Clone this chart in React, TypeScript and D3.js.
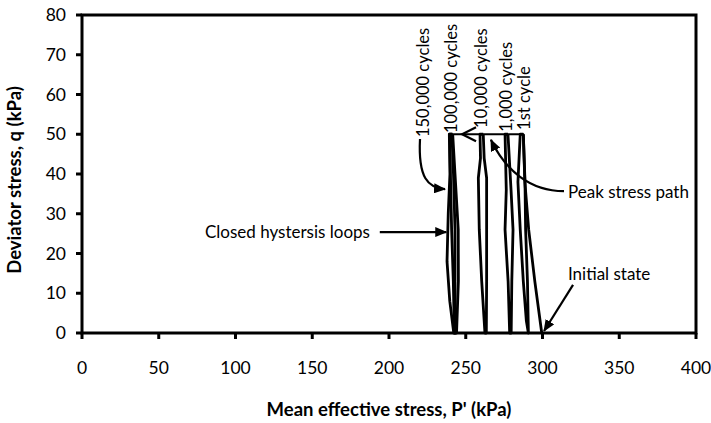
import React from "react";
import * as d3 from "d3";

type Pt = [number, number];

// Axis ticks
const xTicks = [0, 50, 100, 150, 200, 250, 300, 350, 400];
const yTicks = [0, 10, 20, 30, 40, 50, 60, 70, 80];

// Stress paths (p', q)
const initialLoading: Pt[] = [[299.5, 0], [295, 13], [291, 26], [288.5, 38], [287.5, 50]];
const loop1st: Pt[] = [[287.5, 50], [288.6, 38], [289, 26], [290.2, 13], [290.8, 0], [289.5, 3], [287.5, 13], [285.5, 26], [284, 38], [285.5, 50], [287.5, 50]];
const loop1000: Pt[] = [[277.5, 50], [279.5, 36], [280.8, 26], [280, 13], [279.6, 0], [278.6, 0], [277.6, 13], [275.6, 26], [276.4, 36], [275.6, 50], [277.5, 50]];
const loop10000: Pt[] = [[261.4, 50], [262, 44], [263.6, 39], [263.6, 26], [263.6, 13], [263.4, 0], [262.5, 0], [260.4, 13], [258.8, 26], [258.2, 39], [259.6, 44], [259.3, 50], [261.4, 50]];
const loop100000: Pt[] = [[241.5, 50], [243, 40], [245.1, 26], [245.2, 13], [244, 0], [242.6, 0], [241.9, 13], [240.8, 26], [240, 40], [239.6, 50], [241.5, 50]];
const loop150000: Pt[] = [[241, 50], [242, 40], [243, 26], [243, 13], [243.2, 0], [242.2, 0], [239.6, 8], [237.8, 18], [238.6, 30], [239.7, 40], [239.3, 50], [241, 50]];
const paths: Pt[][] = [initialLoading, loop1st, loop1000, loop10000, loop100000, loop150000];

// Cycle labels (rotated) and their anchor (p', q)
const cycleLabels = ["150,000 cycles", "100,000 cycles", "10,000 cycles", "1,000 cycles", "1st cycle"];
const cycleLabelP = [226.1, 244.3, 263.8, 280.1, 291.9];
const cycleLabelQ = [49.3, 50.3, 51.6, 50.6, 51.1];

// Annotation texts
const noteClosed = "Closed hystersis loops";
const notePeak = "Peak stress path";
const noteInitial = "Initial state";

const W = 711;
const H = 423;
const FONT = "Lato, 'Open Sans', sans-serif";

export default function App() {
  const x = d3.scaleLinear().domain([0, 400]).range([82, 696]);
  const y = d3.scaleLinear().domain([0, 80]).range([333, 15]);
  const line = d3.line<Pt>().x((d) => x(d[0])).y((d) => y(d[1]));

  const P = (p: number, q: number) => `${x(p)},${y(q)}`;

  return (
    <svg width={W} height={H} style={{ position: "absolute", left: 0, top: 0, background: "#fff" }} fontFamily={FONT}>
      <defs>
        <marker id="ah" viewBox="0 0 12 10" refX="11" refY="5" markerWidth="12" markerHeight="10" markerUnits="userSpaceOnUse" orient="auto">
          <path d="M0,0 L12,5 L0,10 Z" fill="#000" />
        </marker>
      </defs>
      <rect x={0} y={0} width={W} height={H} fill="#fff" />

      {/* stress paths */}
      {paths.map((d, i) => (
        <path key={i} d={line(d) || ""} fill="none" stroke="#000" strokeWidth={2.8} strokeLinejoin="round" />
      ))}

      {/* peak stress path arrow */}
      <line x1={x(288)} x2={x(240.5)} y1={y(50)} y2={y(50)} stroke="#000" strokeWidth={2.2} />
      <path d={`M${x(256.7)},${y(50) - 7} L${x(247.6)},${y(50)} L${x(256.7)},${y(50) + 7}`} fill="none" stroke="#000" strokeWidth={2.2} />

      {/* frame */}
      <rect x={x(0)} y={y(80)} width={x(400) - x(0)} height={y(0) - y(80)} fill="none" stroke="#000" strokeWidth={3} />

      {/* y ticks */}
      {yTicks.map((t) => (
        <g key={"y" + t}>
          <line x1={x(0) - 6} x2={x(0)} y1={y(t)} y2={y(t)} stroke="#000" strokeWidth={3} />
          <text x={66} y={y(t)} dy="0.35em" textAnchor="end" fontSize={17.5}>{t}</text>
        </g>
      ))}
      {/* x ticks */}
      {xTicks.map((t) => (
        <g key={"x" + t}>
          <line x1={x(t)} x2={x(t)} y1={y(0)} y2={y(0) + 6} stroke="#000" strokeWidth={3} />
          <text x={x(t)} y={368} dy="0.35em" textAnchor="middle" fontSize={17.5}>{t}</text>
        </g>
      ))}

      {/* axis titles */}
      <text x={389} y={410} dy="0.35em" textAnchor="middle" fontSize={18.5} fontWeight="bold">Mean effective stress, P' (kPa)</text>
      <text transform={`translate(15,180) rotate(-90)`} dy="0.35em" textAnchor="middle" fontSize={18.5} fontWeight="bold">Deviator stress, q (kPa)</text>

      {/* rotated cycle labels */}
      {cycleLabels.map((s, i) => (
        <text key={s} transform={`translate(${x(cycleLabelP[i])},${y(cycleLabelQ[i])}) rotate(-90)`} fontSize={16.5}>{s}</text>
      ))}

      {/* 150,000 curved arrow */}
      <path d={`M${P(220.2, 48.8)} C${P(218.9, 39)} ${P(225.4, 36.5)} ${P(236.5, 36.2)}`} fill="none" stroke="#000" strokeWidth={2.2} markerEnd="url(#ah)" />

      {/* closed loops */}
      <text x={x(187.6)} y={y(25.4)} dy="0.35em" textAnchor="end" fontSize={17}>{noteClosed}</text>
      <line x1={x(194)} x2={x(237.3)} y1={y(25.4)} y2={y(25.4)} stroke="#000" strokeWidth={2.2} markerEnd="url(#ah)" />

      {/* peak stress path note */}
      <text x={x(316.6)} y={y(35.5)} dy="0.35em" fontSize={17}>{notePeak}</text>
      <path d={`M${P(314, 35.7)} C${P(291.9, 35.7)} ${P(275.6, 41)} ${P(266.4, 48.6)}`} fill="none" stroke="#000" strokeWidth={2.2} markerEnd="url(#ah)" />

      {/* initial state */}
      <text x={x(316.6)} y={y(14.8)} dy="0.35em" fontSize={17}>{noteInitial}</text>
      <line x1={x(319.9)} y1={y(12.1)} x2={x(301)} y2={y(0.5)} stroke="#000" strokeWidth={2.2} markerEnd="url(#ah)" />
    </svg>
  );
}
